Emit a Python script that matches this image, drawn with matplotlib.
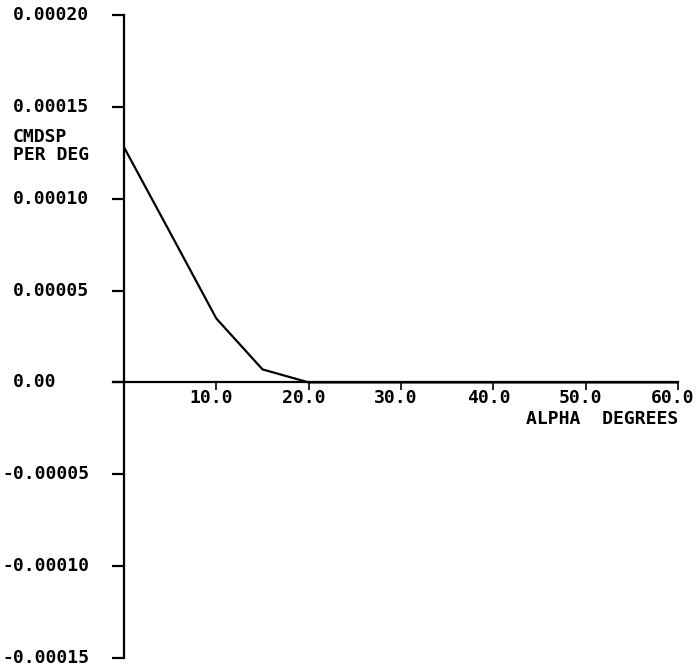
import matplotlib.pyplot as plt
import matplotlib.transforms as mtransforms

# values
alpha = [0, 5, 10, 15, 20, 25, 30, 35, 40, 45, 50, 55, 60]
cmdsp = [0.000128, 0.0000815, 0.0000348, 0.0000071, 0.0, 0.0, 0.0,
         0.0, 0.0, 0.0, 0.0, 0.0, 0.0]

y_ticks = [0.00020, 0.00015, 0.00010, 0.00005, 0.0, -0.00005, -0.00010, -0.00015]
y_labels = ['0.00020', '0.00015', '0.00010', '0.00005', '0.00',
            '-0.00005', '-0.00010', '-0.00015']
x_ticks = [10, 20, 30, 40, 50, 60]
x_labels = ['10.0', '20.0', '30.0', '40.0', '50.0', '60.0']

W, H = 696, 670
font = dict(family='DejaVu Sans Mono', fontweight='bold', fontsize=13)

fig = plt.figure(figsize=(W / 100, H / 100), dpi=100)
ax = fig.add_axes([124 / W, 1 - 658 / H, (678 - 124) / W, (658 - 15) / H])

ax.plot(alpha, cmdsp, color='black', lw=1.6)

ax.set_xlim(0, 60)
ax.set_ylim(-0.00015, 0.00020)

for s in ['top', 'right']:
    ax.spines[s].set_visible(False)
ax.spines['bottom'].set_position(('data', 0))
ax.spines['bottom'].set_bounds(-1.2, 60)
for s in ['left', 'bottom']:
    ax.spines[s].set_linewidth(1.6)

ax.set_yticks(y_ticks)
ax.set_yticklabels([])
ax.set_xticks(x_ticks)
ax.set_xticklabels([])
ax.tick_params(axis='y', direction='out', length=9, width=1.6)
ax.tick_params(axis='x', direction='out', length=6, width=1.2)

# tick labels placed like the plotter did: digits left-aligned, minus hanging
ytrans = mtransforms.blended_transform_factory(fig.transFigure, ax.transData)
for v, lab in zip(y_ticks, y_labels):
    x0 = 13 if not lab.startswith('-') else 2
    ax.text(x0 / W, v, lab, transform=ytrans, ha='left', va='center', **font)

xtrans = mtransforms.blended_transform_factory(ax.transData, fig.transFigure)
shift = mtransforms.ScaledTranslation(-5 / 100, 0, fig.dpi_scale_trans)
for v, lab in zip(x_ticks, x_labels):
    ax.text(v, 1 - 398 / H, lab, transform=xtrans + shift,
            ha='center', va='center', **font)

fig.text(678 / W, 1 - 419 / H, 'ALPHA  DEGREES', ha='right', va='center', **font)
fig.text(13 / W, 1 - 146 / H, 'CMDSP\nPER DEG', ha='left', va='center',
         linespacing=1.0, **font)

fig.savefig('out.png', dpi=100)
